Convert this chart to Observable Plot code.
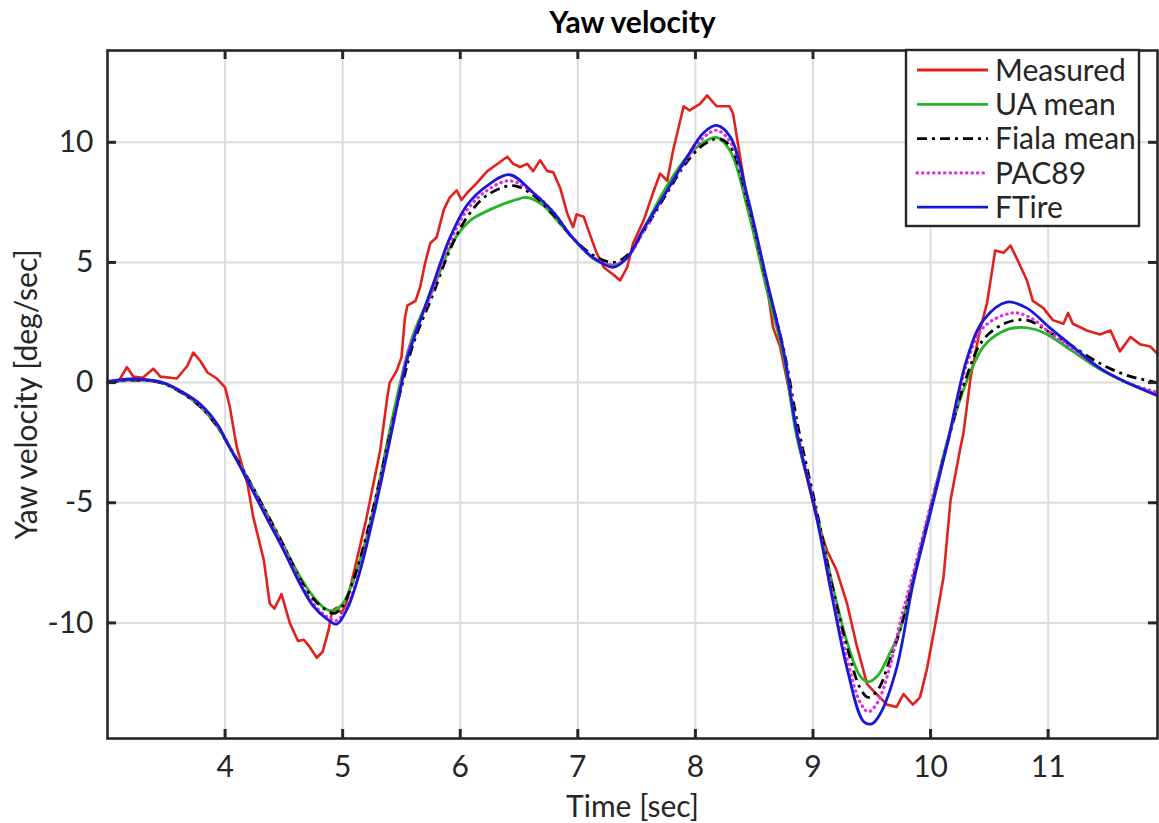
<!DOCTYPE html>
<html><head><meta charset="utf-8">
<script src="https://cdn.jsdelivr.net/npm/d3@7"></script>
<script src="https://cdn.jsdelivr.net/npm/@observablehq/plot@0.6"></script>
<style>body{margin:0;background:#fff}#chart{width:1159px;height:823px}</style>
</head><body><div id="chart"></div>
<script>
// ---- data ----
const measuredT = [3.0,3.1,3.165,3.22,3.3,3.39,3.45,3.59,3.68,3.73,3.79,3.85,3.93,4.0,4.04,4.1,4.19,4.24,4.33,4.38,4.42,4.48,4.55,4.62,4.67,4.72,4.78,4.83,4.88,4.91,4.95,4.99,5.03,5.1,5.2,5.32,5.38,5.40,5.46,5.50,5.53,5.55,5.62,5.66,5.70,5.745,5.80,5.86,5.91,5.97,6.01,6.06,6.14,6.23,6.28,6.40,6.45,6.51,6.57,6.62,6.68,6.74,6.79,6.85,6.91,6.96,6.99,7.05,7.10,7.16,7.22,7.30,7.36,7.42,7.47,7.56,7.64,7.70,7.76,7.81,7.90,7.95,8.04,8.10,8.18,8.29,8.32,8.38,8.44,8.55,8.61,8.66,8.72,8.80,8.89,9.03,9.12,9.20,9.29,9.37,9.46,9.54,9.63,9.71,9.77,9.85,9.91,9.97,10.05,10.11,10.17,10.25,10.28,10.34,10.42,10.48,10.55,10.62,10.68,10.73,10.82,10.87,10.96,11.04,11.13,11.17,11.21,11.33,11.44,11.53,11.61,11.70,11.78,11.87,11.93];
const measuredY = [0.0,0.1,0.64,0.25,0.2,0.58,0.25,0.17,0.7,1.25,0.9,0.42,0.17,-0.2,-1.0,-2.7,-4.2,-5.6,-7.4,-9.2,-9.4,-8.8,-10.0,-10.75,-10.7,-11.0,-11.45,-11.2,-10.3,-9.5,-9.36,-9.6,-9.2,-7.8,-5.7,-2.8,-0.6,0.0,0.5,1.05,2.7,3.2,3.4,4.0,4.95,5.8,6.05,7.2,7.7,8.0,7.6,7.9,8.3,8.8,8.97,9.4,9.1,8.97,9.1,8.8,9.25,8.8,8.76,8.1,7.04,6.47,7.0,6.9,6.2,5.4,4.8,4.5,4.25,4.8,5.8,6.75,7.9,8.7,8.4,9.65,11.5,11.33,11.6,11.95,11.5,11.5,11.2,9.4,7.6,5.4,4.0,2.3,1.5,-0.4,-2.8,-5.6,-7.0,-7.8,-9.2,-10.9,-12.55,-12.96,-13.4,-13.5,-12.96,-13.4,-13.1,-11.9,-9.8,-8.1,-4.9,-2.8,-2.1,0.2,2.2,3.3,5.5,5.4,5.7,5.2,4.25,3.4,3.1,2.6,2.45,2.9,2.45,2.17,2.0,2.17,1.3,1.9,1.6,1.5,1.2];

const uaT = [3.0,3.2,3.4,3.5,3.64,3.79,3.93,4.04,4.15,4.35,4.5,4.64,4.75,4.85,4.92,5.0,5.1,5.2,5.3,5.4,5.5,5.6,5.77,5.91,6.0,6.1,6.3,6.5,6.57,6.7,6.85,7.0,7.15,7.3,7.42,7.56,7.76,7.93,8.07,8.18,8.3,8.44,8.61,8.75,8.86,9.03,9.17,9.29,9.4,9.47,9.55,9.65,9.74,9.88,10.02,10.15,10.31,10.45,10.6,10.76,10.9,11.01,11.21,11.44,11.67,11.93];
const uaY = [0.0,0.1,0.05,-0.08,-0.45,-1.0,-1.8,-2.7,-3.6,-5.4,-6.8,-8.1,-8.9,-9.4,-9.5,-9.2,-8.1,-6.5,-4.4,-2.0,0.2,2.0,3.9,5.6,6.3,6.8,7.3,7.65,7.7,7.4,6.6,5.8,5.1,4.9,5.2,6.4,8.2,9.4,10.0,10.2,9.6,7.3,3.8,1.1,-2.2,-5.4,-8.5,-10.8,-12.2,-12.45,-12.2,-11.3,-10.3,-7.6,-4.8,-2.3,0.1,1.5,2.1,2.3,2.2,1.95,1.3,0.55,0.0,-0.5];

const fialaT = [3.0,3.2,3.4,3.5,3.64,3.79,3.93,4.04,4.15,4.35,4.5,4.64,4.75,4.87,4.93,5.0,5.1,5.2,5.3,5.4,5.5,5.6,5.77,5.91,6.06,6.23,6.45,6.62,6.79,6.96,7.13,7.3,7.42,7.56,7.76,7.93,8.07,8.2,8.3,8.44,8.61,8.75,8.88,9.03,9.17,9.29,9.4,9.47,9.55,9.65,9.74,9.88,10.02,10.15,10.31,10.45,10.65,10.82,11.01,11.21,11.44,11.67,11.93];
const fialaY = [0.0,0.1,0.05,-0.08,-0.45,-1.0,-1.8,-2.7,-3.6,-5.4,-6.8,-8.2,-9.0,-9.5,-9.6,-9.3,-8.1,-6.4,-4.4,-2.2,-0.2,1.6,3.7,5.5,6.9,7.8,8.2,7.8,7.0,6.0,5.3,5.0,5.3,6.3,7.9,9.2,9.9,10.15,9.8,7.6,4.1,1.4,-2.0,-5.3,-8.6,-11.0,-12.7,-13.1,-12.8,-11.6,-10.3,-7.6,-4.9,-2.4,0.3,1.8,2.5,2.6,2.1,1.5,0.8,0.3,0.0];

const pacT = [3.0,3.2,3.4,3.5,3.64,3.79,3.93,4.04,4.15,4.35,4.5,4.64,4.75,4.87,4.95,5.04,5.15,5.26,5.38,5.49,5.55,5.77,5.91,6.06,6.23,6.42,6.62,6.79,6.96,7.13,7.3,7.42,7.56,7.76,7.93,8.07,8.18,8.3,8.44,8.61,8.75,8.87,9.03,9.17,9.29,9.4,9.47,9.55,9.65,9.74,9.87,10.01,10.15,10.31,10.45,10.7,10.85,11.01,11.21,11.44,11.67,11.93];
const pacY = [0.02,0.12,0.06,-0.06,-0.42,-0.95,-1.75,-2.7,-3.65,-5.5,-6.9,-8.3,-9.2,-9.75,-9.9,-9.3,-7.7,-5.5,-2.8,-0.2,1.2,3.9,5.8,7.2,8.0,8.4,7.9,7.1,6.0,5.2,4.9,5.2,6.3,8.0,9.3,10.2,10.5,10.0,7.7,4.1,1.3,-2.1,-5.5,-8.9,-11.5,-13.3,-13.7,-13.3,-11.9,-10.0,-7.6,-4.9,-2.4,0.8,2.3,2.9,2.7,2.1,1.4,0.6,0.0,-0.4];

const ftireT = [3.0,3.2,3.4,3.5,3.64,3.79,3.93,4.04,4.15,4.35,4.5,4.64,4.75,4.87,4.95,5.04,5.15,5.26,5.38,5.49,5.55,5.77,5.91,6.06,6.23,6.42,6.62,6.79,6.96,7.13,7.3,7.42,7.56,7.76,7.93,8.07,8.18,8.3,8.44,8.61,8.75,8.86,9.03,9.17,9.29,9.43,9.5,9.57,9.71,9.85,10.0,10.14,10.31,10.45,10.65,10.82,11.01,11.21,11.44,11.67,11.93];
const ftireY = [0.05,0.15,0.08,-0.05,-0.4,-0.9,-1.7,-2.7,-3.7,-5.6,-7.0,-8.4,-9.3,-9.85,-10.05,-9.4,-7.8,-5.6,-2.9,-0.3,1.0,4.1,6.0,7.4,8.2,8.65,7.9,7.1,6.0,5.2,4.8,5.2,6.4,8.0,9.4,10.4,10.7,10.2,7.8,4.2,1.3,-2.0,-5.6,-9.1,-11.9,-14.1,-14.2,-13.8,-11.9,-8.4,-5.4,-2.6,1.0,2.6,3.35,3.1,2.3,1.5,0.6,0.0,-0.55];

const seriesNames = ["Measured","UA mean","Fiala mean","PAC89","FTire"];
const seriesColors = ["#e2211c","#25b525","#000000","#e030e0","#1818d8"];
const seriesDash = [null,null,"10,5,3,5","0.5,5",null];
const xTicks = [4,5,6,7,8,9,10,11];
const yTicks = [-10,-5,0,5,10];

const toRows = (ts, ys) => ts.map((t, i) => ({t, y: ys[i]}));
const seriesRows = [toRows(measuredT, measuredY), toRows(uaT, uaY), toRows(fialaT, fialaY), toRows(pacT, pacY), toRows(ftireT, ftireY)];

const ink = "#262626";
const font = "Lato, 'Open Sans', sans-serif";
const fmt = d => String(d);

const lineMarks = seriesRows.map((rows, i) => Plot.line(rows, {
  x: "t", y: "y",
  stroke: seriesColors[i],
  strokeWidth: i === 0 ? 2.6 : (i === 3 ? 3.2 : 2.8),
  strokeDasharray: seriesDash[i] || undefined,
  strokeLinecap: i === 3 ? "round" : "butt",
  curve: i === 0 ? "linear" : "catmull-rom"
}));

const svg = Plot.plot({
  width: 1159, height: 823,
  marginLeft: 107, marginRight: 2, marginTop: 50, marginBottom: 85,
  style: {fontFamily: font, fontSize: "30px", color: ink, background: "#fff", overflow: "visible"},
  x: {domain: [3, 11.93]},
  y: {domain: [-14.81, 13.82]},
  marks: [
    Plot.gridX(xTicks, {stroke: "#dcdcdc", strokeOpacity: 1, strokeWidth: 2}),
    Plot.gridY(yTicks, {stroke: "#dcdcdc", strokeOpacity: 1, strokeWidth: 2}),
    ...lineMarks,
    Plot.frame({stroke: ink, strokeWidth: 2.6}),
    Plot.tickX(xTicks, {x: d => d, insetTop: 679, stroke: ink, strokeWidth: 3}),
    Plot.tickX(xTicks, {x: d => d, insetBottom: 679, stroke: ink, strokeWidth: 3}),
    Plot.tickY(yTicks, {y: d => d, insetRight: 1041, stroke: ink, strokeWidth: 3}),
    Plot.tickY(yTicks, {y: d => d, insetLeft: 1041, stroke: ink, strokeWidth: 3}),
    Plot.axisX(xTicks, {tickSize: 0, tickPadding: 17, tickFormat: fmt, label: null, fontSize: 30, fill: ink}),
    Plot.axisY(yTicks, {tickSize: 0, tickPadding: 14, tickFormat: fmt, label: null, fontSize: 30, fill: ink}),
    Plot.text(["Time [sec]"], {frameAnchor: "bottom", dy: 69, textAnchor: "middle", lineAnchor: "middle", fontSize: 30, fill: ink}),
    Plot.text(["Yaw velocity [deg/sec]"], {frameAnchor: "left", dx: -80, rotate: -90, textAnchor: "middle", lineAnchor: "middle", fontSize: 30, fill: ink}),
    Plot.text(["Yaw velocity"], {frameAnchor: "top", dy: -27, textAnchor: "middle", lineAnchor: "middle", fontSize: 30, fontWeight: "bold", fill: "#000"})
  ]
});

// legend (MATLAB style box, top-right inside the axes)
const g = d3.select(svg).append("g").attr("font-family", font).attr("font-size", 30).attr("text-anchor", "start");
g.append("rect").attr("x", 906).attr("y", 50).attr("width", 233).attr("height", 176)
  .attr("fill", "#fff").attr("stroke", ink).attr("stroke-width", 2.4);
seriesNames.forEach((name, i) => {
  const cy = 70 + i * 34.3;
  g.append("line").attr("x1", 917).attr("x2", 988).attr("y1", cy).attr("y2", cy)
    .attr("stroke", seriesColors[i]).attr("stroke-width", i === 3 ? 3.2 : 2.8)
    .attr("stroke-dasharray", seriesDash[i] || null)
    .attr("stroke-linecap", i === 3 ? "round" : "butt");
  g.append("text").attr("x", 995).attr("y", cy).attr("dy", "0.36em").attr("text-anchor", "start").attr("fill", ink).text(name);
});

document.getElementById("chart").appendChild(svg);
</script>
</body></html>
